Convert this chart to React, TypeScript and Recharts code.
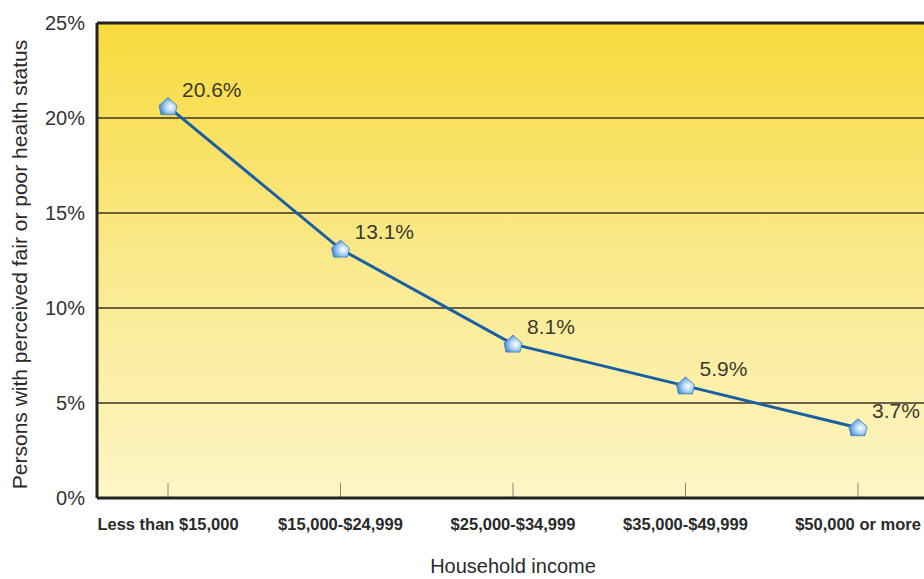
import { CartesianGrid, LabelList, Line, LineChart, ReferenceLine, XAxis, YAxis } from "recharts";

const incomeGroups = [
  "Less than $15,000",
  "$15,000-$24,999",
  "$25,000-$34,999",
  "$35,000-$49,999",
  "$50,000 or more",
];
const fairPoorPct = [20.6, 13.1, 8.1, 5.9, 3.7];
const yTicks = [0, 5, 10, 15, 20, 25];

const data = incomeGroups.map((g, i) => ({ group: g, pct: fairPoorPct[i] }));

const font = "Arial, 'Liberation Sans', sans-serif";

function Marker(props: any) {
  const { cx, cy } = props;
  if (cx == null || cy == null) return null;
  const r = 9;
  return (
    <polygon
      points={`${cx},${cy - r} ${cx + r},${cy - 1} ${cx + r - 2},${cy + r - 1} ${cx - r + 2},${cy + r - 1} ${cx - r},${cy - 1}`}
      fill="url(#dotGrad)"
      stroke="#3b7fc4"
      strokeWidth={0.8}
    />
  );
}

function ValueLabel(props: any) {
  const { x, y, value } = props;
  return (
    <text x={x + 14} y={y - 10} fill="#3a3a30" fontSize={21} fontFamily={font}>
      {`${Number(value).toFixed(1)}%`}
    </text>
  );
}

export default function App() {
  return (
    <div style={{ position: "fixed", left: 0, top: 0, width: 924, height: 579, overflow: "hidden", background: "#fff" }}>
      <LineChart width={940} height={579} data={data} margin={{ top: 23, right: 11, left: 0, bottom: 0 }}>
        <defs>
          <linearGradient id="bgGrad" x1="0" y1="0" x2="0" y2="1">
            <stop offset="0%" stopColor="#f8da3c" />
            <stop offset="50%" stopColor="#fae98c" />
            <stop offset="100%" stopColor="#fdf6c6" />
          </linearGradient>
          <radialGradient id="dotGrad" cx="65%" cy="55%" r="70%">
            <stop offset="0%" stopColor="#ffffff" />
            <stop offset="45%" stopColor="#a9d0f2" />
            <stop offset="100%" stopColor="#2c78c8" />
          </radialGradient>
        </defs>
        <CartesianGrid
          vertical={false}
          fill="url(#bgGrad)"
          fillOpacity={1}
          stroke="#3a3420"
          strokeWidth={1.5}
          strokeDasharray=""
        />
        <XAxis
          dataKey="group"
          padding={{ left: 71, right: 71 }}
          height={81}
          tickLine={false}
          tickSize={0}
          tickMargin={20}
          axisLine={{ stroke: "#222", strokeWidth: 3 }}
          tick={{ fill: "#2a2a2a", fontSize: 16.5, fontFamily: font, fontWeight: "bold" }}
          interval={0}
          label={{ value: "Household income", position: "insideBottom", offset: 6, fill: "#2a2a2a", fontSize: 20, fontFamily: font }}
        />
        <YAxis
          domain={[0, 25]}
          ticks={yTicks}
          width={97}
          tickLine={false}
          tickSize={0}
          tickMargin={12}
          axisLine={{ stroke: "#222", strokeWidth: 3 }}
          tickFormatter={(v) => `${v}%`}
          tick={{ fill: "#333", fontSize: 20, fontFamily: font }}
          label={{
            value: "Persons with perceived fair or poor health status",
            angle: -90,
            position: "center",
            dx: -29,
            dy: 4,
            fill: "#2a2a2a",
            fontSize: 21,
            fontFamily: font,
          }}
        />
        <ReferenceLine y={25} stroke="#222" strokeWidth={3} />
        {incomeGroups.map((g) => (
          <ReferenceLine
            key={g}
            segment={[
              { x: g, y: 0 },
              { x: g, y: 0.8 },
            ]}
            stroke="#8a8a7a"
            strokeWidth={1}
          />
        ))}
        <Line
          type="linear"
          dataKey="pct"
          stroke="#1b5fa3"
          strokeWidth={3}
          dot={<Marker />}
          activeDot={false}
          isAnimationActive={false}
        >
          <LabelList dataKey="pct" content={<ValueLabel />} />
        </Line>
      </LineChart>
    </div>
  );
}
